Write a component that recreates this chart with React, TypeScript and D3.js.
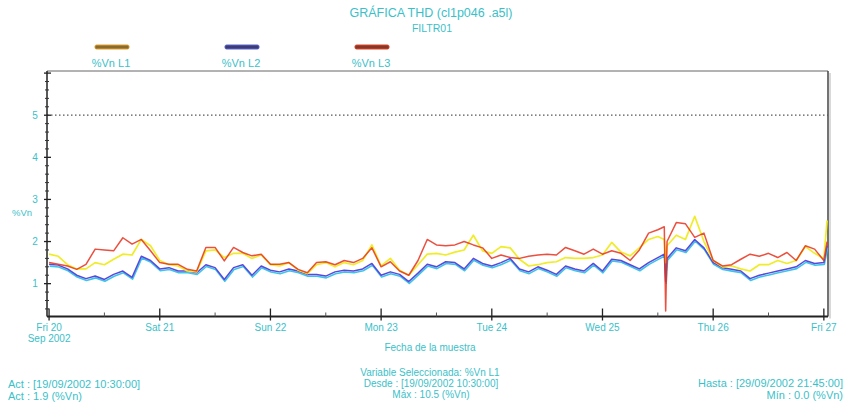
import * as d3 from 'd3';

// hours since Fri 20 Sep 2002 00:00 (2 h steps, extra samples around the dip on Wed 25)
const hours = [
  0, 2, 4, 6, 8, 10, 12, 14, 16, 18, 20, 22, 24, 26, 28, 30, 32, 34, 36, 38, 40, 42, 44, 46, 48,
  50, 52, 54, 56, 58, 60, 62, 64, 66, 68, 70, 72, 74, 76, 78, 80, 82, 84, 86, 88, 90, 92, 94, 96,
  98, 100, 102, 104, 106, 108, 110, 112, 114, 116, 118, 120, 122, 124, 126, 128, 130, 132, 133.4, 133.7,
  134, 136, 138, 140, 142, 144, 146, 148, 150, 152, 154, 156, 158, 160, 162, 164, 166, 168, 168.7,
];

const vnL1 = [
  1.7, 1.65, 1.45, 1.35, 1.35, 1.5, 1.45, 1.58, 1.7, 1.68, 2.05, 1.9, 1.55, 1.45, 1.42, 1.3, 1.28, 1.78, 1.8, 1.62, 1.72, 1.72, 1.6, 1.68, 1.45,
  1.42, 1.5, 1.32, 1.24, 1.45, 1.5, 1.4, 1.5, 1.45, 1.55, 1.92, 1.42, 1.6, 1.32, 1.2, 1.45, 1.7, 1.72, 1.68, 1.75, 1.8, 2.15, 1.78, 1.72,
  1.88, 1.85, 1.58, 1.42, 1.45, 1.5, 1.52, 1.62, 1.6, 1.6, 1.62, 1.68, 1.98, 1.75, 1.66, 1.85, 2.05, 2.12, 2.05, 1.5,
  1.9, 2.15, 2.05, 2.6, 2.0, 1.55, 1.4, 1.42, 1.35, 1.3, 1.45, 1.45, 1.55, 1.48, 1.55, 1.88, 1.72, 1.6, 2.5,
];

const vnL2 = [
  1.46, 1.44, 1.35, 1.2, 1.12, 1.18, 1.1, 1.22, 1.3, 1.15, 1.65, 1.55, 1.35, 1.38, 1.3, 1.3, 1.26, 1.45, 1.38, 1.1, 1.38, 1.45, 1.2, 1.42, 1.32,
  1.28, 1.35, 1.3, 1.22, 1.22, 1.18, 1.28, 1.32, 1.3, 1.35, 1.48, 1.2, 1.28, 1.22, 1.05, 1.25, 1.46, 1.4, 1.52, 1.5, 1.35, 1.6, 1.48, 1.42,
  1.5, 1.6, 1.35, 1.28, 1.4, 1.32, 1.22, 1.42, 1.35, 1.3, 1.48, 1.3, 1.58, 1.55, 1.45, 1.35, 1.5, 1.62, 1.7, 1.05,
  1.6, 1.85, 1.78, 2.05, 1.85, 1.5, 1.38, 1.34, 1.3, 1.12, 1.2, 1.25, 1.3, 1.35, 1.4, 1.55, 1.48, 1.5, 1.9,
];

const vnL3 = [
  1.5, 1.46, 1.42, 1.34, 1.46, 1.82, 1.8, 1.78, 2.09, 1.94, 2.05, 1.78, 1.5, 1.46, 1.46, 1.34, 1.3, 1.86, 1.86, 1.54, 1.86, 1.74, 1.66, 1.7, 1.46,
  1.46, 1.5, 1.34, 1.26, 1.5, 1.52, 1.45, 1.55, 1.5, 1.6, 1.85, 1.4, 1.52, 1.3, 1.2, 1.55, 2.05, 1.92, 1.9, 1.92, 2.0, 1.92, 1.85, 1.6,
  1.68, 1.62, 1.6, 1.65, 1.68, 1.7, 1.68, 1.86, 1.78, 1.7, 1.82, 1.7, 1.78, 1.72, 1.55, 1.8, 2.2, 2.28, 2.35, 0.35,
  2.0, 2.45, 2.42, 2.1, 2.2, 1.55, 1.42, 1.45, 1.58, 1.7, 1.65, 1.72, 1.62, 1.74, 1.55, 1.9, 1.82, 1.55, 2.0,
];

const dayLabels = ['Fri 20', 'Sat 21', 'Sun 22', 'Mon 23', 'Tue 24', 'Wed 25', 'Thu 26', 'Fri 27'];
const yLabels = [1, 2, 3, 4, 5];
const legendNames = ['%Vn L1', '%Vn L2', '%Vn L3'];

const start = new Date(2002, 8, 20, 0, 0, 0);
const at = (h: number) => new Date(start.getTime() + h * 3600e3);

const W = 848;
const H = 410;
const left = 47;
const right = 828;
const top = 71;
const bottom = 316.5;

const teal = '#3bbfc9';
const font = '"Liberation Sans Narrow", "Liberation Sans", Arial, sans-serif';

export default function App() {
  const x = d3.scaleTime().domain([at(-0.45), at(168.9)]).range([left, right]);
  const y = d3.scaleLinear().domain([0.22, 6.05]).range([bottom, top]);

  const line = (vals: number[]) =>
    d3.line<number>()
      .x((_, i) => x(at(hours[i])))
      .y(d => y(d))(vals) || '';

  const days = d3.timeDay.range(at(0), at(169));
  const halfDays = d3.timeHour.every(12)!.range(at(0), at(169)).filter(d => d.getHours() === 12);
  const minorY = d3.range(0.4, 6.01, 0.2).filter(v => Math.abs(v - Math.round(v)) > 0.01);
  const majorY = d3.range(1, 7);

  const legendX = [111, 241, 371];
  const swatch = [
    { fill: '#8c6a2a', stroke: '#e0a030' },
    { fill: '#3c3a7a', stroke: '#5a66c8' },
    { fill: '#8c3426', stroke: '#d8482a' },
  ];

  return (
    <svg width={W} height={H} style={{ position: 'absolute', left: 0, top: 0, background: '#fff' }}
      fontFamily={font} fill={teal}>
      {/* title */}
      <text x={431} y={17} fontSize={12.5} textAnchor="middle">GRÁFICA THD (cl1p046 .a5l)</text>
      <text x={432} y={32} fontSize={10.5} textAnchor="middle">FILTR01</text>

      {/* legend */}
      {legendNames.map((n, i) => (
        <g key={n}>
          <rect x={legendX[i] - 16} y={45} width={34} height={4} rx={1.5}
            fill={swatch[i].fill} stroke={swatch[i].stroke} strokeWidth={1} />
          <text x={legendX[i]} y={67} fontSize={11} textAnchor="middle">{n}</text>
        </g>
      ))}

      {/* frame */}
      <line x1={left} x2={right} y1={top} y2={top} stroke="#666" strokeWidth={1} />
      <line x1={right + 2} x2={right + 2} y1={top + 2} y2={bottom + 2} stroke="#ccc" strokeWidth={1.5} />
      <line x1={right} x2={right} y1={top} y2={bottom} stroke="#444" strokeWidth={1.5} />

      {/* dotted limit line at 5 */}
      <line x1={left} x2={right} y1={y(5)} y2={y(5)} stroke="#555" strokeWidth={1.2} strokeDasharray="1.5 2.5" />

      {/* series */}
      <g fill="none" strokeLinejoin="round">
        <path d={line(vnL2)} stroke="#3cc4e6" strokeWidth={1.6} transform="translate(0.5,1.8)" />
        <path d={line(vnL2)} stroke="#5848dc" strokeWidth={1.5} />
        <path d={line(vnL1)} stroke="#f0ec28" strokeWidth={1.7} />
        <path d={line(vnL3)} stroke="#e8301c" strokeWidth={1.5} strokeOpacity={0.85} />
      </g>

      {/* y axis */}
      <line x1={left} x2={left} y1={top} y2={bottom} stroke="#222" strokeWidth={1.5} />
      {minorY.map(v => (
        <line key={v} x1={left - 2} x2={left + 2} y1={y(v)} y2={y(v)} stroke="#333" strokeWidth={1} />
      ))}
      {majorY.map(v => (
        <line key={v} x1={left - 3} x2={left + 4} y1={y(v)} y2={y(v)} stroke="#222" strokeWidth={1.3} />
      ))}
      {yLabels.map(v => (
        <text key={v} x={35} y={y(v) + 3.5} fontSize={10} textAnchor="middle">{v}</text>
      ))}
      <text x={22} y={216} fontSize={9.5} textAnchor="middle">%Vn</text>

      {/* x axis */}
      <line x1={left} x2={right} y1={bottom} y2={bottom} stroke="#222" strokeWidth={2} />
      {halfDays.map(d => (
        <line key={+d} x1={x(d)} x2={x(d)} y1={bottom - 4} y2={bottom} stroke="#555" strokeWidth={1} />
      ))}
      {days.map(d => (
        <line key={+d} x1={x(d)} x2={x(d)} y1={bottom - 8} y2={bottom + 4} stroke="#222" strokeWidth={1.3} />
      ))}
      {days.map((d, i) => (
        <text key={+d} x={x(d)} y={331} fontSize={10} textAnchor="middle">{dayLabels[i]}</text>
      ))}
      <text x={x(days[0])} y={342} fontSize={10} textAnchor="middle">Sep 2002</text>
      <text x={430} y={351} fontSize={10} textAnchor="middle">Fecha de la muestra</text>

      {/* footer */}
      <text x={430} y={376} fontSize={10} textAnchor="middle">Variable Seleccionada: %Vn L1</text>
      <text x={431} y={387} fontSize={10} textAnchor="middle">Desde : [19/09/2002 10:30:00]</text>
      <text x={431} y={398} fontSize={10} textAnchor="middle">Máx : 10.5 (%Vn)</text>
      <text x={8} y={388} fontSize={11}>Act : [19/09/2002 10:30:00]</text>
      <text x={8} y={400} fontSize={11}>Act : 1.9 (%Vn)</text>
      <text x={843} y={387} fontSize={11} textAnchor="end">Hasta : [29/09/2002 21:45:00]</text>
      <text x={843} y={399} fontSize={11} textAnchor="end">Mín : 0.0 (%Vn)</text>
    </svg>
  );
}
